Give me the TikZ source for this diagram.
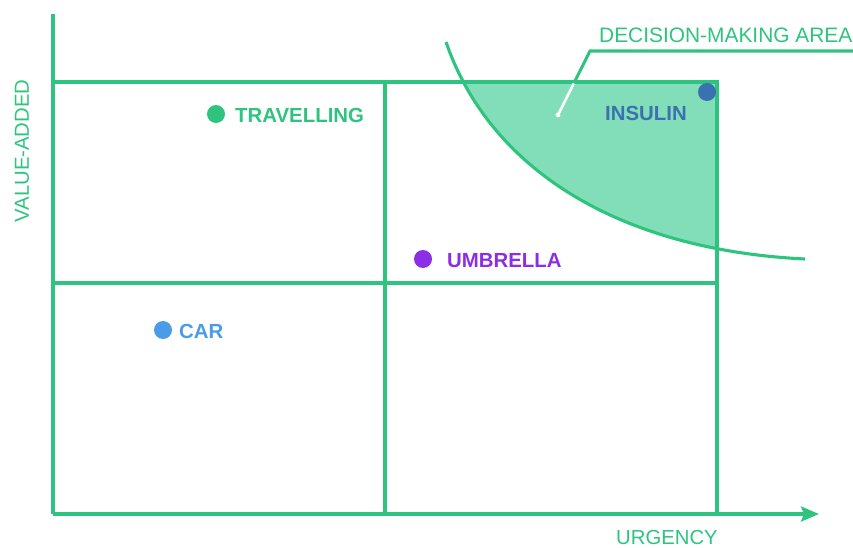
\documentclass[tikz,border=0pt]{standalone}
\usepackage{fontspec}
\setmainfont{Liberation Sans}
\usetikzlibrary{arrows.meta}
\definecolor{lgreen}{HTML}{2EC47F}
\definecolor{fgreen}{HTML}{82DEB8}
\definecolor{upurple}{HTML}{8B2EE6}
\definecolor{cblue}{HTML}{4A9BE8}
\definecolor{iblue}{HTML}{3A72B0}
\tikzset{
  gridline/.style={draw=lgreen, line width=3.1pt},
  lab/.style={inner sep=0pt, font=\fontsize{20.3}{20}\selectfont, text=lgreen},
  itemlab/.style={inner sep=0pt, anchor=west, font=\fontsize{20.4}{20}\selectfont\bfseries},
  itemdot/.style={circle, inner sep=0pt, minimum size=18pt},
}
\begin{document}
\begin{tikzpicture}[x=1pt,y=-1pt]
\useasboundingbox (0,0) rectangle (853,548);
% coordinates
\coordinate (ytop) at (53,14);
\coordinate (o) at (53,514);
\coordinate (xend) at (819,514);
\coordinate (tl) at (53,82);
\coordinate (tr) at (717,82);
\coordinate (ml) at (53,283);
\coordinate (mr) at (717,283);
\coordinate (vm1) at (385,82);
\coordinate (vm2) at (385,514);
\coordinate (vr2) at (717,514);
\coordinate (cs) at (446,42);
\coordinate (ce) at (805,259);
% filled decision area
\begin{scope}
  \clip (cs) .. controls (490,170) and (620,250) .. (ce) -- (853,259) -- (853,0) -- (446,0) -- cycle;
  \fill[fgreen] (vm1) rectangle (mr);
\end{scope}
% grid
\draw[gridline] (ytop) -- (o);
\draw[gridline, -{Stealth[length=18pt,width=15pt,inset=3pt]}] (o) -- (xend);
\draw[gridline] (tl) -- (tr) -- (vr2);
\draw[gridline] (ml) -- (mr);
\draw[gridline] (vm1) -- (vm2);
% curve
\draw[gridline] (cs) .. controls (490,170) and (620,250) .. (ce);
% leader
\coordinate (lr) at (853,51);
\coordinate (lk) at (590,51);
\coordinate (lm) at (574.5,82);
\coordinate (lm2) at (573.5,84);
\coordinate (le) at (558,115);
\draw[gridline] (lr) -- (lk) -- (lm);
\draw[white, line width=2.6pt, line cap=round] (lm2) -- (le);
\fill[white] (le) circle (2.4pt);
% labels
\node[lab, anchor=west, font=\fontsize{20.9}{20}\selectfont] (dma) at (599,35) {DECISION-MAKING AREA};
\node[lab, anchor=west] (urg) at (616,538) {URGENCY};
\node[lab, rotate=90] (val) at (22,151) {VALUE-ADDED};
% items
\node[itemdot, fill=lgreen] (dtr) at (216,114) {};
\node[itemlab, text=lgreen] (ttr) at (235,115.5) {TRAVELLING};
\node[itemdot, fill=upurple] (dum) at (423,259) {};
\node[itemlab, text=upurple] (tum) at (447,261) {UMBRELLA};
\node[itemdot, fill=cblue] (dcar) at (163,330) {};
\node[itemlab, text=cblue] (tcar) at (179,331.5) {CAR};
\node[itemdot, fill=iblue] (dins) at (707,92) {};
\node[itemlab, text=iblue] (tins) at (605,113) {INSULIN};
\end{tikzpicture}
\end{document}
